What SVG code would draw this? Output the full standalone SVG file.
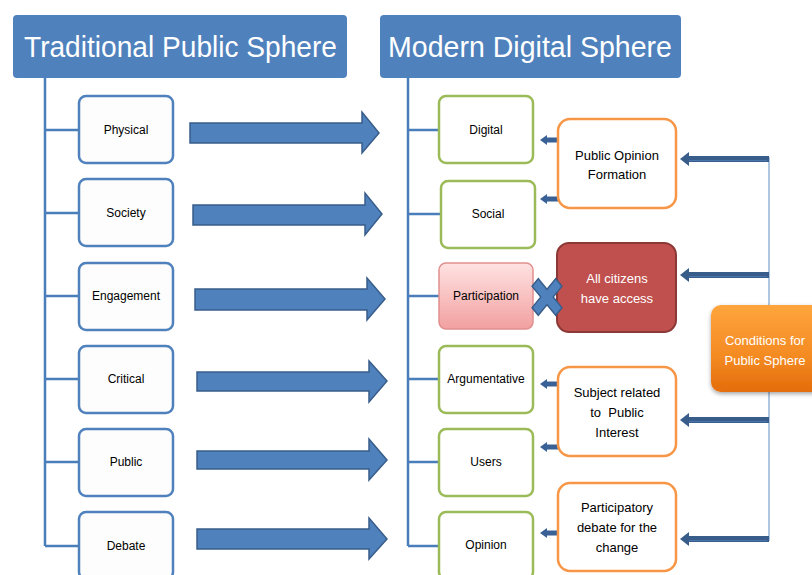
<svg xmlns="http://www.w3.org/2000/svg" width="812" height="575" viewBox="0 0 812 575">
  <style>
    .title { fill: #4F81BD; }
    .titletxt { font-family: "Liberation Sans", Arial, sans-serif; font-size: 30px; fill: #ffffff; }
    .lbox { fill: #FDFDFD; stroke: #4F81BD; stroke-width: 2.5; }
    .gbox { fill: #ffffff; stroke: #9BBB59; stroke-width: 2.5; }
    .obox { fill: #ffffff; stroke: #F79646; stroke-width: 2.5; }
    .t12 { font-family: "Liberation Sans", Arial, sans-serif; font-size: 12px; fill: #000000; text-anchor: middle; }
    .t13 { font-family: "Liberation Sans", Arial, sans-serif; font-size: 13px; fill: #000000; text-anchor: middle; white-space: pre; }
    .w13 { font-family: "Liberation Sans", Arial, sans-serif; font-size: 13px; fill: #ffffff; text-anchor: middle; }
    .spine { stroke: #4A7EBB; stroke-width: 2.5; fill: none; }
    .block { fill: #4F81BD; stroke: #385D8A; stroke-width: 1.5; }
    .short { stroke: #3A6195; stroke-width: 5; fill: none; }
    .headS { fill: #3A6195; }
    .longO { stroke: #385D8A; stroke-width: 6; fill: none; }
    .longI { stroke: #4B76AD; stroke-width: 1.2; fill: none; }
    .headL { fill: #385D8A; }
    .feed { stroke: #95B3D7; stroke-width: 1.5; fill: none; }
  </style>
  <defs>
    <linearGradient id="pinkGrad" x1="0" y1="0" x2="0" y2="1">
      <stop offset="0" stop-color="#FFE2E2"/>
      <stop offset="1" stop-color="#F2A0A0"/>
    </linearGradient>
    <linearGradient id="orangeGrad" x1="0" y1="0" x2="0" y2="1">
      <stop offset="0" stop-color="#FFA53C"/>
      <stop offset="0.6" stop-color="#F38A22"/>
      <stop offset="1" stop-color="#E46C0A"/>
    </linearGradient>
    <filter id="shadow" x="-20%" y="-20%" width="140%" height="150%">
      <feDropShadow dx="0" dy="2" stdDeviation="2" flood-color="#000000" flood-opacity="0.35"/>
    </filter>
  </defs>

  <rect width="812" height="575" fill="#ffffff"/>

  <!-- connectors -->
  <g id="connectors">
    <!-- left tree -->
    <path class="spine" d="M45 78 V546 M45 130 H79 M45 213 H79 M45 296 H79 M45 379 H79 M45 462 H79 M45 546 H79"/>
    <!-- right tree -->
    <path class="spine" d="M408 78 V546 M408 130 H439 M408 214 H441 M408 296 H439 M408 379 H439 M408 462 H439 M408 546 H439"/>

    <!-- block arrows between the two spheres -->
    <polygon class="block" points="190,123 362,123 362,112 379,133 362,153 362,143 190,143"/>
    <polygon class="block" points="193,205 365,205 365,193 382,214 365,235 365,225 193,225"/>
    <polygon class="block" points="195,289 367,289 367,278 385,299 367,320 367,310 195,310"/>
    <polygon class="block" points="197,372 369,372 369,361 387,381 369,402 369,391 197,391"/>
    <polygon class="block" points="197,451 369,451 369,439 387,460 369,480 369,469 197,469"/>
    <polygon class="block" points="197,529 369,529 369,518 387,539 369,559 369,549 197,549"/>

    <!-- short arrows from conditions to features -->
    <path class="short" d="M567 140 H546 M567 199 H546 M567 384 H546 M567 447 H546 M567 533 H546"/>
    <polygon class="headS" points="540,140 547,135 547,145"/>
    <polygon class="headS" points="540,199 547,194 547,204"/>
    <polygon class="headS" points="540,384 547,379 547,389"/>
    <polygon class="headS" points="540,447 547,442 547,452"/>
    <polygon class="headS" points="540,533 547,528 547,538"/>

    <!-- feed line from the conditions box -->
    <path class="feed" d="M769 157 V541"/>
    <path class="longO" d="M769 159 H688 M769 275 H688 M769 420 H688 M769 539 H688"/>
    <path class="longI" d="M767 160.5 H688 M767 276.5 H688 M767 421.5 H688 M767 540.5 H688"/>
    <polygon class="headL" points="680,159 689,152 689,166"/>
    <polygon class="headL" points="680,275 689,268 689,282"/>
    <polygon class="headL" points="680,420 689,413 689,427"/>
    <polygon class="headL" points="680,539 689,532 689,546"/>
  </g>

  <!-- headers -->
  <g id="traditional-header">
    <rect class="title" x="13" y="15" width="334" height="63" rx="4"/>
    <text class="titletxt" x="24" y="57" textLength="313" lengthAdjust="spacingAndGlyphs">Traditional Public Sphere</text>
  </g>
  <g id="modern-header">
    <rect class="title" x="380" y="15" width="301" height="63" rx="4"/>
    <text class="titletxt" x="388" y="57" textLength="284" lengthAdjust="spacingAndGlyphs">Modern Digital Sphere</text>
  </g>

  <!-- traditional sphere attributes -->
  <g id="physical"><rect class="lbox" x="79" y="96" width="94" height="67" rx="7"/><text class="t12" x="126" y="134">Physical</text></g>
  <g id="society"><rect class="lbox" x="79" y="179" width="94" height="67" rx="7"/><text class="t12" x="126" y="217">Society</text></g>
  <g id="engagement"><rect class="lbox" x="79" y="263" width="94" height="67" rx="7"/><text class="t12" x="126" y="300">Engagement</text></g>
  <g id="critical"><rect class="lbox" x="79" y="346" width="94" height="67" rx="7"/><text class="t12" x="126" y="383">Critical</text></g>
  <g id="public"><rect class="lbox" x="79" y="429" width="94" height="67" rx="7"/><text class="t12" x="126" y="466">Public</text></g>
  <g id="debate"><rect class="lbox" x="79" y="512" width="94" height="67" rx="7"/><text class="t12" x="126" y="550">Debate</text></g>

  <!-- modern sphere attributes -->
  <g id="digital"><rect class="gbox" x="439" y="96" width="94" height="67" rx="7"/><text class="t12" x="486" y="134">Digital</text></g>
  <g id="social"><rect class="gbox" x="441" y="181" width="94" height="67" rx="7"/><text class="t12" x="488" y="218">Social</text></g>
  <g id="participation"><rect x="439" y="263" width="94" height="66" rx="7" fill="url(#pinkGrad)" stroke="#E0908E" stroke-width="1.5"/><text class="t12" x="486" y="300">Participation</text></g>
  <g id="argumentative"><rect class="gbox" x="439" y="346" width="94" height="67" rx="7"/><text class="t12" x="486" y="383">Argumentative</text></g>
  <g id="users"><rect class="gbox" x="439" y="429" width="94" height="67" rx="7"/><text class="t12" x="486" y="466">Users</text></g>
  <g id="opinion"><rect class="gbox" x="439" y="512" width="94" height="67" rx="7"/><text class="t12" x="486" y="549">Opinion</text></g>

  <!-- conditions -->
  <g id="public-opinion-formation">
    <rect class="obox" x="558" y="119" width="118" height="89" rx="12"/>
    <text class="t13" x="617" y="160">Public Opinion</text>
    <text class="t13" x="617" y="179">Formation</text>
  </g>
  <g id="all-citizens">
    <rect x="557" y="243" width="119" height="89" rx="12" fill="#C0504D" stroke="#8C3836" stroke-width="2"/>
    <text class="w13" x="617" y="283">All citizens</text>
    <text class="w13" x="617" y="303">have access</text>
  </g>
  <g id="subject-public-interest">
    <rect class="obox" x="558" y="367" width="118" height="89" rx="12"/>
    <text class="t13" x="617" y="397">Subject related</text>
    <text class="t13" x="617" y="417" xml:space="preserve">to  Public</text>
    <text class="t13" x="617" y="437">Interest</text>
  </g>
  <g id="participatory-debate">
    <rect class="obox" x="558" y="483" width="118" height="88" rx="12"/>
    <text class="t13" x="617" y="512">Participatory</text>
    <text class="t13" x="617" y="532">debate for the</text>
    <text class="t13" x="617" y="552">change</text>
  </g>

  <g id="conditions-for-public-sphere">
    <rect x="711" y="305" width="125" height="87" rx="10" fill="url(#orangeGrad)" filter="url(#shadow)"/>
    <text class="w13" x="765" y="345">Conditions for</text>
    <text class="w13" x="765" y="365">Public Sphere</text>
  </g>

  <!-- blocked link between participation and access -->
  <g id="blocked">
    <polygon transform="translate(547,297) scale(0.88,1.08) rotate(45)" points="-5,-19 5,-19 5,-5 19,-5 19,5 5,5 5,19 -5,19 -5,5 -19,5 -19,-5 -5,-5" fill="#4F81BD" stroke="#385D8A" stroke-width="1.5"/>
  </g>
</svg>
